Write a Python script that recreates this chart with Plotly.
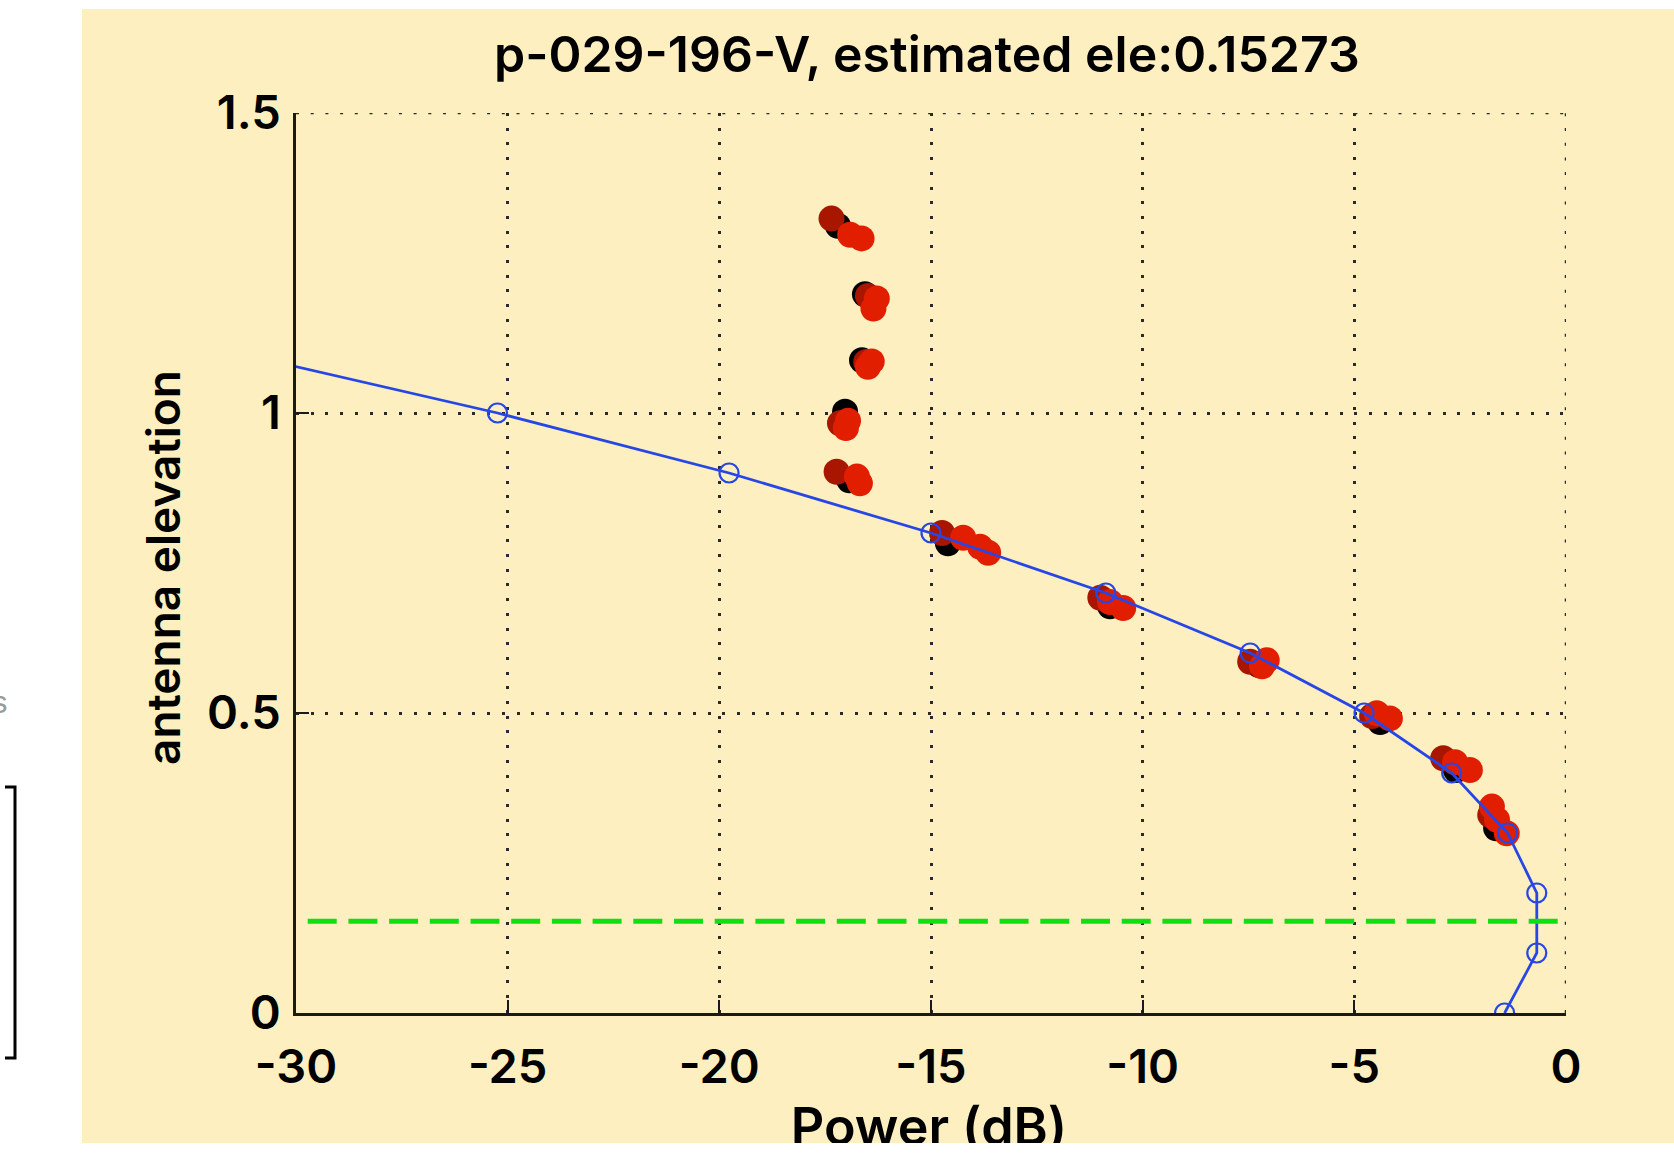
import plotly.graph_objects as go

# ---------------- data ----------------
est_ele = 0.15273
title_text = f"p-029-196-V, estimated ele:{est_ele}"

# model curve (blue, circles)
model_elev = [0.0, 0.1, 0.2, 0.3, 0.4, 0.5, 0.6, 0.7, 0.8, 0.9, 1.0, 1.1]
model_power = [-1.45, -0.69, -0.69, -1.38, -2.70, -4.77, -7.46, -10.87, -15.0, -19.77, -25.24, -31.4]

# measured points, grouped by colour
black_power = [-17.20, -16.56, -16.63, -17.03, -16.93, -14.60, -10.77, -7.25, -4.39, -2.60, -1.65]
black_elev = [1.312, 1.198, 1.088, 1.002, 0.888, 0.783, 0.678, 0.580, 0.485, 0.405, 0.308]

darkred_power = [-17.35, -16.49, -16.53, -17.15, -17.23, -14.74, -11.00, -7.46, -4.58, -2.90, -1.79]
darkred_elev = [1.324, 1.195, 1.085, 0.983, 0.902, 0.800, 0.692, 0.5855, 0.495, 0.4245, 0.330]

red_power = [-16.91, -16.64, -16.28, -16.36, -16.40, -16.49, -16.96, -17.01, -16.75, -16.68,
             -14.24, -13.84, -13.65, -10.77, -10.46, -7.07, -7.18, -4.47, -4.16, -2.62, -2.27,
             -1.75, -1.63, -1.40]
red_elev = [1.297, 1.291, 1.191, 1.174, 1.086, 1.077, 0.987, 0.975, 0.894, 0.883,
            0.792, 0.777, 0.767, 0.685, 0.675, 0.588, 0.578, 0.4995, 0.491, 0.418, 0.405,
            0.344, 0.322, 0.2995]

x_ticks = [-30, -25, -20, -15, -10, -5, 0]
x_ticktext = [str(v) for v in x_ticks]
y_ticks = [0, 0.5, 1, 1.5]
y_ticktext = ["0", "0.5", "1", "1.5"]

x_label = "Power (dB)"
y_label = "antenna elevation"

# ---------------- layout helpers (pixel -> paper) ----------------
W, H = 1674, 1160
ML, MT, MB, MR = 82, 9, 17, 0
PW = W - ML - MR
PH = H - MT - MB


def px_x(X):
    return (X - ML) / PW


def px_y(Y):
    return (H - MB - Y) / PH


AX_L, AX_R, AX_T, AX_B = 296, 1566, 113, 1013

FONT = "Inter, Liberation Sans, Arial, sans-serif"
WEIGHT = 600
CREAM = "#FDEFC0"
BLUE = "#2646E6"
RED = "#E21E00"
DARKRED = "#A81600"
GREEN = "#10E010"
GRID = "#2a2a2a"
GRID_DASH = "3px,11.7px"

fig = go.Figure()

marker_size = 26
fig.add_trace(go.Scatter(x=black_power, y=black_elev, mode="markers",
                         marker=dict(size=marker_size, color="#000000", line=dict(width=0)),
                         showlegend=False, hoverinfo="skip"))
fig.add_trace(go.Scatter(x=darkred_power, y=darkred_elev, mode="markers",
                         marker=dict(size=marker_size, color=DARKRED, line=dict(width=0)),
                         showlegend=False, hoverinfo="skip"))
fig.add_trace(go.Scatter(x=red_power, y=red_elev, mode="markers",
                         marker=dict(size=marker_size, color=RED, line=dict(width=0)),
                         showlegend=False, hoverinfo="skip"))
fig.add_trace(go.Scatter(x=model_power, y=model_elev, mode="lines+markers",
                         line=dict(color=BLUE, width=2.8),
                         marker=dict(symbol="circle-open", size=19, color=BLUE,
                                     line=dict(width=2.2, color=BLUE)),
                         showlegend=False, hoverinfo="skip"))
fig.add_trace(go.Scatter(x=[x_ticks[0], x_ticks[-1]], y=[est_ele, est_ele], mode="lines",
                         line=dict(color=GREEN, width=5, dash="0px,11.7px,29px,0px"),
                         showlegend=False, hoverinfo="skip"))

# x-axis label, clipped at the bottom of the cream figure area (as in the reference)
fig.add_trace(go.Scatter(x=[929], y=[11], mode="text", text=[x_label],
                         textposition="middle center",
                         textfont=dict(family=FONT, size=52, color="black", weight=WEIGHT),
                         xaxis="x2", yaxis="y2", cliponaxis=True,
                         showlegend=False, hoverinfo="skip"))

axis_common = dict(
    showline=True, linecolor="#1a1a1a", linewidth=2.5,
    ticks="inside", ticklen=13, tickwidth=2, tickcolor="#1a1a1a",
    showgrid=True, gridcolor=GRID, gridwidth=2.5, griddash=GRID_DASH,
    zeroline=False, mirror=False,
    tickfont=dict(family=FONT, size=47, color="black", weight=WEIGHT),
)

fig.update_layout(
    width=W, height=H,
    margin=dict(l=ML, r=MR, t=MT, b=MB, pad=0, autoexpand=False),
    paper_bgcolor="white",
    plot_bgcolor="rgba(0,0,0,0)",
    showlegend=False,
    xaxis=dict(domain=[px_x(AX_L), px_x(AX_R)], range=[x_ticks[0], x_ticks[-1]],
               tickvals=x_ticks, ticktext=x_ticktext, ticklabelstandoff=11,
               anchor="y", automargin=False, **axis_common),
    yaxis=dict(domain=[px_y(AX_B), px_y(AX_T)], range=[y_ticks[0], y_ticks[-1]],
               tickvals=y_ticks, ticktext=y_ticktext, ticklabelstandoff=3,
               anchor="x", automargin=False, **axis_common),
    xaxis2=dict(domain=[0, 1], range=[ML, W - MR], visible=False, anchor="y2",
                fixedrange=True),
    yaxis2=dict(domain=[0, px_y(AX_B)], range=[0, H - MB - AX_B], visible=False,
                anchor="x2", fixedrange=True),
    shapes=[
        dict(type="rect", xref="paper", yref="paper", x0=0, x1=1, y0=0, y1=1,
             fillcolor=CREAM, line=dict(width=0), layer="below"),
        # dotted grid lines on the top and right borders of the axes
        dict(type="line", xref="x", yref="y", x0=x_ticks[0], x1=x_ticks[-1],
             y0=y_ticks[-1], y1=y_ticks[-1],
             line=dict(color=GRID, width=2.5, dash=GRID_DASH), layer="below"),
        dict(type="line", xref="x", yref="y", x0=x_ticks[-1], x1=x_ticks[-1],
             y0=y_ticks[0], y1=y_ticks[-1],
             line=dict(color=GRID, width=2.5, dash=GRID_DASH), layer="below"),
        # stray bracket at the far left of the screenshot
        dict(type="path", xref="paper", yref="paper",
             path=(f"M {px_x(5)},{px_y(787)} L {px_x(15)},{px_y(787)} "
                   f"L {px_x(15)},{px_y(1058)} L {px_x(5)},{px_y(1058)}"),
             line=dict(color="black", width=3), layer="above"),
    ],
    annotations=[
        dict(text=title_text, xref="paper", yref="paper", x=px_x(927), y=px_y(54),
             xanchor="center", yanchor="middle", showarrow=False,
             font=dict(family=FONT, size=50, color="black", weight=WEIGHT)),
        dict(text=y_label, xref="paper", yref="paper", x=px_x(163), y=px_y(568),
             xanchor="center", yanchor="middle", textangle=-90, showarrow=False,
             font=dict(family=FONT, size=46, color="black", weight=WEIGHT)),
        dict(text="s", xref="paper", yref="paper", x=px_x(0), y=px_y(702),
             xanchor="center", yanchor="middle", showarrow=False,
             font=dict(family=FONT, size=30, color="#9a9a9a")),
    ],
)

fig.write_html("out.html", config={"displayModeBar": False})
